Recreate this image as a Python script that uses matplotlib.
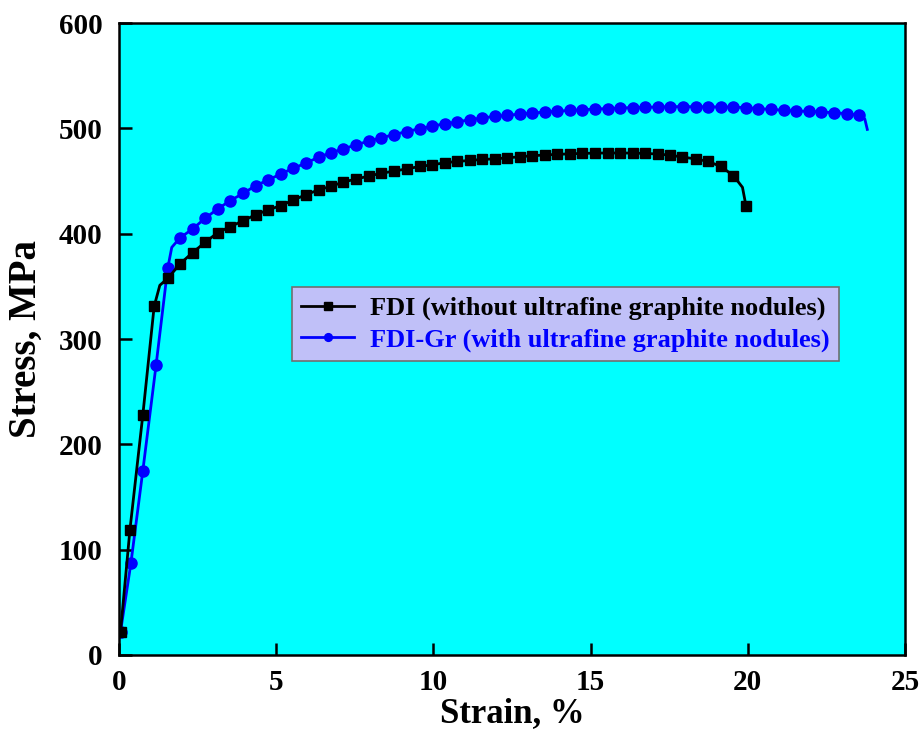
import matplotlib
matplotlib.use("Agg")
import matplotlib.pyplot as plt

# FDI (without ultrafine graphite nodules) - strain %, stress MPa
fdi_strain = [0.05, 0.35, 0.76, 1.12, 1.30, 1.57, 1.93, 2.34, 2.74, 3.14, 3.54, 3.96, 4.35, 4.75,
              5.15, 5.55, 5.95, 6.35, 6.74, 7.14, 7.55, 7.94, 8.34, 8.74, 9.16, 9.57,
              9.96, 10.36, 10.75, 11.16, 11.55, 11.95, 12.35, 12.74, 13.14, 13.54, 13.94,
              14.34, 14.74, 15.14, 15.54, 15.94, 16.34, 16.74, 17.14, 17.54, 17.92, 18.34,
              18.74, 19.14, 19.54, 19.83, 19.94]
fdi_stress = [22, 119, 228, 331, 351, 358, 371, 382, 391.7, 401, 406.7, 412.4, 418, 422.6,
              426.7, 432, 437, 441.6, 445, 449, 452, 454.6, 457.4, 459.3, 461.6, 463.8,
              465.4, 467.3, 468.6, 469.5, 470.5, 471, 472, 473, 474, 474.7, 475.3,
              475.8, 476.2, 476.5, 476.6, 476.6, 476.5, 476.2, 475.6, 474.5, 472.7, 471,
              468.6, 463.8, 455.2, 444, 426.7]
fdi_marks = [i for i in range(len(fdi_strain)) if i not in (4, 51)]

# FDI-Gr (with ultrafine graphite nodules)
gr_strain = [0.05, 0.38, 0.76, 1.18, 1.55, 1.68, 1.94, 2.34, 2.74, 3.14, 3.54, 3.96, 4.35,
             4.75, 5.15, 5.55, 5.95, 6.35, 6.74, 7.14, 7.55, 7.94, 8.34, 8.74, 9.16,
             9.57, 9.96, 10.36, 10.75, 11.16, 11.55, 11.95, 12.35, 12.74, 13.14, 13.54,
             13.94, 14.34, 14.74, 15.14, 15.54, 15.94, 16.34, 16.74, 17.14, 17.54, 17.95,
             18.34, 18.74, 19.14, 19.54, 19.94, 20.33, 20.73, 21.14, 21.53, 21.93, 22.32,
             22.73, 23.14, 23.55, 23.72, 23.8]
gr_stress = [22, 87, 175, 275, 367, 387, 396, 404.4, 414.6, 423.5, 431.4, 438.4, 445.7,
             451, 456.8, 462.2, 467, 472.7, 476.8, 480.6, 484.4, 487.9, 491, 494, 497,
             499.7, 502, 504.4, 506, 508.3, 509.8, 511.4, 512.4, 513.5, 514.5, 515.5,
             516.3, 517, 517.7, 518.3, 518.8, 519.3, 519.7, 520, 520.3, 520.5, 520.7,
             520.5, 520.4, 520.3, 520.2, 519.7, 518.7, 518.1, 517.1, 516.5, 516.2, 515.6,
             514.9, 514, 512.4, 509, 499]
gr_marks = [i for i in range(len(gr_strain)) if i not in (5, 61, 62)]

x_ticks = [0, 5, 10, 15, 20, 25]
y_ticks = [0, 100, 200, 300, 400, 500, 600]

serif = ["Liberation Serif", "DejaVu Serif"]
plt.rcParams["font.family"] = serif
plt.rcParams["font.weight"] = "bold"

fig = plt.figure(figsize=(9.22, 7.38), dpi=100)
ax = fig.add_axes([0.129, 0.1125, 0.8526, 0.8563])
ax.set_facecolor("#00FFFF")

ax.plot(fdi_strain, fdi_stress, color="black", lw=2.0, marker="s", ms=7.5,
        markevery=fdi_marks, label="FDI (without ultrafine graphite nodules)", zorder=3)
ax.plot(gr_strain, gr_stress, color="#0000FF", lw=2.0, marker="o", ms=8,
        markevery=gr_marks, label="FDI-Gr (with ultrafine graphite nodules)", zorder=2)

ax.set_xlim(0, 25)
ax.set_ylim(0, 600)
ax.set_xticks(x_ticks)
ax.set_yticks(y_ticks)
ax.tick_params(axis="both", direction="in", length=9, width=1.8, top=False, right=False)
ax.tick_params(axis="x", labelsize=21, pad=10)
ax.tick_params(axis="y", labelsize=21, pad=12)
for lab in ax.get_xticklabels() + ax.get_yticklabels():
    lab.set_fontweight("bold")
for sp in ax.spines.values():
    sp.set_linewidth(1.8)

ax.set_xlabel("Strain, %", fontsize=25, fontweight="bold", labelpad=1)
ax.set_ylabel("Stress, MPa", fontsize=28, fontweight="bold", labelpad=10)

leg = ax.legend(loc="upper left", bbox_to_anchor=(0.22, 0.582), borderaxespad=0,
                fancybox=False, framealpha=1, facecolor="#C0C0F8", edgecolor="#707070",
                prop={"family": serif, "weight": "bold", "size": 19},
                handlelength=2.0, handletextpad=0.6, labelspacing=0.3, borderpad=0.35,
                markerscale=0.7)
leg.get_frame().set_linewidth(1.2)
for t, c in zip(leg.get_texts(), ["black", "#0000FF"]):
    t.set_color(c)

fig.savefig("out.png", dpi=100)
